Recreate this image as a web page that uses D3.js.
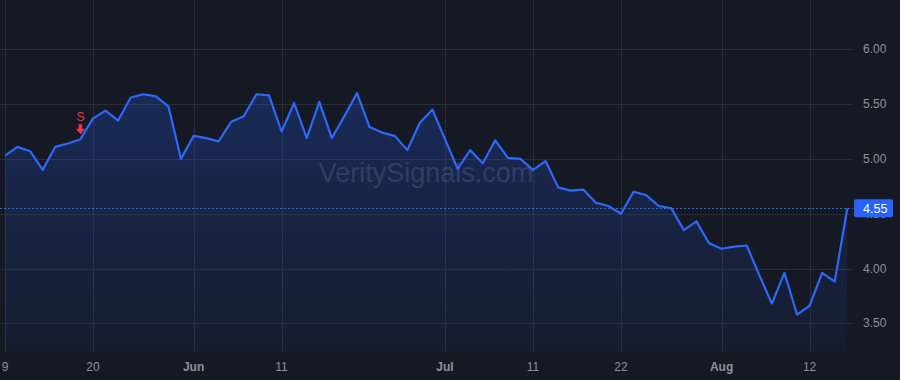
<!DOCTYPE html>
<html lang="en">
    <head>
        <meta charset="utf-8">
        <title>Price chart</title>
        <script type="text/javascript" src="https://d3js.org/d3.v7.min.js"></script>
        <style>
            html, body { margin: 0; padding: 0; background: #151924; }
            svg { display: block; }
        </style>
    </head>

    <body>

        <script type="text/javascript">

            var w = 900;
            var h = 380;

            // trading days, May 9 -> Aug 15
            var dates = [
                "2025-05-09","2025-05-12","2025-05-13","2025-05-14","2025-05-15","2025-05-16",
                "2025-05-19","2025-05-20","2025-05-21","2025-05-22","2025-05-23",
                "2025-05-27","2025-05-28","2025-05-29","2025-05-30",
                "2025-06-02","2025-06-03","2025-06-04","2025-06-05","2025-06-06",
                "2025-06-09","2025-06-10","2025-06-11","2025-06-12","2025-06-13",
                "2025-06-16","2025-06-17","2025-06-18","2025-06-20",
                "2025-06-23","2025-06-24","2025-06-25","2025-06-26","2025-06-27",
                "2025-06-30","2025-07-01","2025-07-02","2025-07-03",
                "2025-07-07","2025-07-08","2025-07-09","2025-07-10","2025-07-11",
                "2025-07-14","2025-07-15","2025-07-16","2025-07-17","2025-07-18",
                "2025-07-21","2025-07-22","2025-07-23","2025-07-24","2025-07-25",
                "2025-07-28","2025-07-29","2025-07-30","2025-07-31","2025-08-01",
                "2025-08-04","2025-08-05","2025-08-06","2025-08-07","2025-08-08",
                "2025-08-11","2025-08-12","2025-08-13","2025-08-14","2025-08-15"
            ];

            var prices = [
                5.03, 5.11, 5.07, 4.90, 5.11, 5.14, 5.18, 5.37, 5.44, 5.35,
                5.56, 5.59, 5.57, 5.48, 5.00, 5.21, 5.19, 5.16, 5.34, 5.39,
                5.59, 5.58, 5.25, 5.51, 5.19, 5.52, 5.19, 5.39, 5.60, 5.29,
                5.24, 5.21, 5.08, 5.33, 5.45, 5.18, 4.91, 5.08, 4.96, 5.17,
                5.01, 5.00, 4.90, 4.98, 4.74, 4.71, 4.72, 4.60, 4.57, 4.50,
                4.70, 4.67, 4.57, 4.55, 4.35, 4.43, 4.23, 4.18, 4.20, 4.21,
                3.94, 3.68, 3.96, 3.58, 3.66, 3.96, 3.88, 4.55
            ];

            // x-axis ticks
            var tickDates  = ["2025-05-09","2025-05-20","2025-06-02","2025-06-11","2025-07-01","2025-07-11","2025-07-22","2025-08-01","2025-08-12"];
            var tickLabels = ["9","20","Jun","11","Jul","11","22","Aug","12"];
            var tickIsMonth = [false,false,true,false,true,false,false,true,false];

            // y-axis ticks
            var priceTicks = [3.5, 4.0, 4.5, 5.0, 5.5, 6.0];

            // signal marker
            var signalDates = ["2025-05-19"];
            var signalLabels = ["S"];

            var lastPrice = prices[prices.length - 1];

            var plotRight = 853;
            var plotBottom = 352;

            var xScale = d3.scalePoint()
                .domain(dates)
                .range([5, 847.3]);

            var yScale = d3.scaleLinear()
                .domain([3.5, 6])
                .range([323.3, 49.3]);

            var data = dates.map(function(d, i) { return { date: d, value: prices[i] }; });

            var svg = d3.select("body")
                .append("svg")
                .attr("width", w)
                .attr("height", h)
                .style("font-family", "'Liberation Sans', Arial, sans-serif");

            svg.append("rect")
                .attr("width", w)
                .attr("height", h)
                .attr("fill", "#151924");

            // gradient for the area
            var defs = svg.append("defs");
            var grad = defs.append("linearGradient")
                .attr("id", "areaFill")
                .attr("gradientUnits", "userSpaceOnUse")
                .attr("x1", 0).attr("x2", 0)
                .attr("y1", yScale(d3.max(prices)))
                .attr("y2", plotBottom);
            grad.append("stop").attr("offset", 0).attr("stop-color", "#2962ff").attr("stop-opacity", 0.24);
            grad.append("stop").attr("offset", 1).attr("stop-color", "#2962ff").attr("stop-opacity", 0.04);

            // grid
            var grid = svg.append("g");
            grid.selectAll(".hgrid")
                .data(priceTicks)
                .enter()
                .append("line")
                .attr("x1", 0)
                .attr("x2", plotRight)
                .attr("y1", function(d) { return Math.round(yScale(d)) + 0.5; })
                .attr("y2", function(d) { return Math.round(yScale(d)) + 0.5; })
                .attr("stroke", "#2a2e3a")
                .attr("stroke-width", 1);

            grid.selectAll(".vgrid")
                .data(tickDates)
                .enter()
                .append("line")
                .attr("x1", function(d) { return Math.round(xScale(d)) + 0.5; })
                .attr("x2", function(d) { return Math.round(xScale(d)) + 0.5; })
                .attr("y1", 0)
                .attr("y2", plotBottom)
                .attr("stroke", "#2a2e3a")
                .attr("stroke-width", 1);

            // watermark
            svg.append("text")
                .attr("x", 426)
                .attr("y", 182)
                .attr("text-anchor", "middle")
                .attr("font-size", 27)
                .attr("fill", "rgba(150,160,190,0.24)")
                .text("VeritySignals.com");

            // area + line
            var area = d3.area()
                .x(function(d) { return xScale(d.date); })
                .y0(plotBottom)
                .y1(function(d) { return yScale(d.value); });

            var line = d3.line()
                .x(function(d) { return xScale(d.date); })
                .y(function(d) { return yScale(d.value); });

            svg.append("path")
                .datum(data)
                .attr("d", area)
                .attr("fill", "url(#areaFill)");

            svg.append("path")
                .datum(data)
                .attr("d", line)
                .attr("fill", "none")
                .attr("stroke", "#2d68fa")
                .attr("stroke-width", 2.2)
                .attr("stroke-linejoin", "round");

            // last price line
            svg.append("line")
                .attr("x1", 0)
                .attr("x2", plotRight)
                .attr("y1", Math.round(yScale(lastPrice)) + 0.5)
                .attr("y2", Math.round(yScale(lastPrice)) + 0.5)
                .attr("stroke", "#2d68fa")
                .attr("stroke-width", 1)
                .attr("stroke-dasharray", "2,2");

            // signal markers
            var sig = svg.selectAll(".sig")
                .data(signalDates)
                .enter()
                .append("g")
                .attr("transform", function(d) {
                    var i = dates.indexOf(d);
                    return "translate(" + xScale(d) + "," + yScale(prices[i]) + ")";
                });
            sig.append("path")
                .attr("d", "M-1.8,-15 L1.8,-15 L1.8,-10.3 L4.5,-10.3 L0,-5 L-4.5,-10.3 L-1.8,-10.3 Z")
                .attr("fill", "#f23645");
            sig.append("text")
                .attr("y", -18.5)
                .attr("text-anchor", "middle")
                .attr("font-size", 12)
                .attr("fill", "#f23645")
                .text(function(d, i) { return signalLabels[i]; });

            // y axis labels
            svg.selectAll(".ylab")
                .data(priceTicks)
                .enter()
                .append("text")
                .attr("x", 863)
                .attr("y", function(d) { return yScale(d) + 4; })
                .attr("font-size", 12)
                .attr("fill", "#8c909b")
                .text(function(d) { return d.toFixed(2); });

            // last price label
            var ly = yScale(lastPrice);
            svg.append("rect")
                .attr("x", 854)
                .attr("y", ly - 9)
                .attr("width", 39)
                .attr("height", 18)
                .attr("rx", 2)
                .attr("fill", "#2962ff");
            svg.append("text")
                .attr("x", 863)
                .attr("y", ly + 4.5)
                .attr("font-size", 12.5)
                .attr("fill", "#ffffff")
                .text(lastPrice.toFixed(2));

            // x axis labels
            svg.selectAll(".xlab")
                .data(tickDates)
                .enter()
                .append("text")
                .attr("x", function(d) { return xScale(d); })
                .attr("y", 371)
                .attr("text-anchor", "middle")
                .attr("font-size", 12)
                .attr("font-weight", function(d, i) { return tickIsMonth[i] ? "bold" : "normal"; })
                .attr("fill", "#8c909b")
                .text(function(d, i) { return tickLabels[i]; });

        </script>
    </body>
</html>
